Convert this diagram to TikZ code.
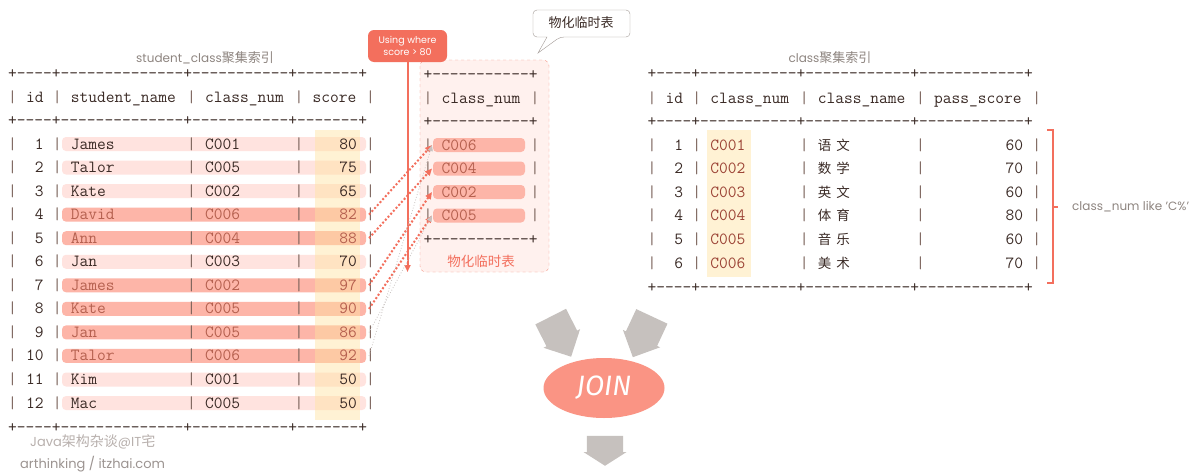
\documentclass[tikz,border=0pt]{standalone}
\usepackage{fontspec}
\setmainfont{Poppins}
\setmonofont{Latin Modern Mono}
\newfontfamily\cjk{Noto Sans CJK SC}
\newfontfamily\joinfont{Fira Sans}
\usetikzlibrary{arrows.meta,shapes.geometric,shapes.arrows}

\definecolor{ink}{HTML}{3A2A25}
\definecolor{pipe}{HTML}{7A625A}
\definecolor{hitink}{HTML}{B5604F}
\definecolor{codeink}{HTML}{9C4436}
\definecolor{barlo}{HTML}{FFE3DF}
\definecolor{barhi}{HTML}{FDB5A8}
\definecolor{colhl}{HTML}{FFE3A0}
\definecolor{redline}{HTML}{F36F5D}
\definecolor{joinfill}{HTML}{FA9484}
\definecolor{boxfill}{HTML}{FFF1EE}
\definecolor{boxline}{HTML}{F3907F}
\definecolor{label}{HTML}{8E8580}
\definecolor{wmlight}{HTML}{B8B0AD}
\definecolor{wmdark}{HTML}{9C9491}
\definecolor{arrowgray}{HTML}{C6C1BE}
\definecolor{linkgray}{HTML}{C8C2C0}
\definecolor{calloutline}{HTML}{A39B97}

\tikzset{
  tt/.style={font=\ttfamily\fontsize{17}{17}\selectfont, inner sep=0pt, text height=10pt, text depth=0pt},
  cjkcell/.style={font=\cjk\fontsize{13.5}{13.5}\selectfont, inner sep=0pt, text height=10pt, text depth=0pt},
  bar/.style={rounded corners=4pt},
  hl/.style={fill=colhl, fill opacity=0.45},
  caption/.style={font=\fontsize{12}{12}\selectfont, text=label, inner sep=0pt},
  hitlink/.style={redline, line width=2pt, dash pattern=on 2pt off 2pt, -{Triangle[length=7pt,width=6pt]}},
  duplink/.style={linkgray, line width=0.8pt, dotted, -{Triangle[length=6pt,width=5pt]}},
  blockarrow/.style={single arrow, fill=arrowgray, minimum height=45pt, minimum width=41pt,
    inner xsep=0pt, inner ysep=10.3pt, single arrow head extend=2pt},
  wherebox/.style={fill=redline, rounded corners=6pt, minimum width=79pt, minimum height=32pt,
    inner sep=0pt, text=white, align=center, font=\fontsize{9.5}{12.5}\selectfont},
}

\def\lrows{1/James/C001/80/barlo/ink, 2/Talor/C005/75/barlo/ink, 3/Kate/C002/65/barlo/ink,
  4/David/C006/82/barhi/hitink, 5/Ann/C004/88/barhi/hitink, 6/Jan/C003/70/barlo/ink,
  7/James/C002/97/barhi/hitink, 8/Kate/C005/90/barhi/hitink, 9/Jan/C005/86/barhi/hitink,
  10/Talor/C006/92/barhi/hitink, 11/Kim/C001/50/barlo/ink, 12/Mac/C005/50/barlo/ink}
\def\rrows{1/C001/语/文/60, 2/C002/数/学/70, 3/C003/英/文/60,
  4/C004/体/育/80, 5/C005/音/乐/60, 6/C006/美/术/70}

\begin{document}
\begin{tikzpicture}[x=1pt, y=-1pt]
\fill[white] (0,0) rectangle (1200,474);

% titles
\node[caption] (ltitle) at (205,58) {student\_class{\cjk\fontsize{13}{13}\selectfont 聚集索引}};
\node[caption] (rtitle) at (830,58) {class{\cjk\fontsize{13}{13}\selectfont 聚集索引}};

% materialized temp table box
\draw[boxline, dashed, fill=boxfill, rounded corners=6pt] (420,60) rectangle (549,272);

% student_class table
\foreach \id/\name/\cls/\sc/\bc/\tc in \lrows {
  \pgfmathsetmacro\y{144+(\id-1)*23.55}
  \fill[fill=\bc, bar] (62,\y-7) rectangle (366,\y+7);
}
\fill[hl] (315,130) rectangle (360,420);
\node[tt, text=ink, anchor=west] (ltop) at (8,73) {+----+--------------+-----------+-------+};
\node[tt, text=pipe] at (12.5,97) {|};
\node[tt, text=pipe] at (57.25,97) {|};
\node[tt, text=pipe] at (191.5,97) {|};
\node[tt, text=pipe] at (298.9,97) {|};
\node[tt, text=pipe] at (370.5,97) {|};
\node[tt, text=ink, anchor=west] (lh1) at (25.9,97) {id};
\node[tt, text=ink, anchor=west] (lh2) at (70.7,97) {student\_name};
\node[tt, text=ink, anchor=west] (lh3) at (204.9,97) {class\_num};
\node[tt, text=ink, anchor=west] (lh4) at (312.3,97) {score};
\node[tt, text=ink, anchor=west] (lmid) at (8,120) {+----+--------------+-----------+-------+};
\foreach \id/\name/\cls/\sc/\bc/\tc in \lrows {
  \pgfmathsetmacro\y{144+(\id-1)*23.55}
  \foreach \c in {0,5,20,32,40}
    \node[tt, text=pipe] at ({12.5+8.95*\c},\y) {|};
  \node[tt, text=ink, anchor=east] (id\id) at (43.8,\y) {\id};
  \node[tt, text=\tc, anchor=west] (name\id) at (70.7,\y) {\name};
  \node[tt, text=\tc, anchor=west] (cls\id) at (204.9,\y) {\cls};
  \node[tt, text=\tc, anchor=east] (sc\id) at (357.1,\y) {\sc};
  \coordinate (from\id) at (369,\y);
}
\node[tt, text=ink, anchor=west] (lbot) at (8,427) {+----+--------------+-----------+-------+};

% temp table
\node[tt, text=ink, anchor=west] (ttop) at (423.5,74) {+-----------+};
\node[tt, text=pipe] at (428,98) {|};
\node[tt, text=pipe] at (535,98) {|};
\node[tt, text=ink, anchor=west] (th) at (441.4,98) {class\_num};
\node[tt, text=ink, anchor=west] (tmid) at (423.5,121) {+-----------+};
\foreach \cls [count=\k] in {C006,C004,C002,C005} {
  \pgfmathsetmacro\y{145+(\k-1)*23.5}
  \fill[fill=barhi, bar] (433,\y-7) rectangle (525,\y+7);
  \node[tt, text=pipe] at (428,\y) {|};
  \node[tt, text=pipe] at (535,\y) {|};
  \node[tt, text=hitink, anchor=west] (tmp\k) at (441.4,\y) {\cls};
  \coordinate (to\k) at (432,\y);
}
\node[tt, text=ink, anchor=west] (tbot) at (423.5,239) {+-----------+};
\node[font=\cjk\fontsize{13.5}{13.5}\selectfont, text=redline, inner sep=0pt] (tlabel) at (481,261) {物化临时表};

% callout
\draw[calloutline, fill=white, rounded corners=4pt] (533,10) -- (630,10) -- (630,37) -- (560,37)
  [sharp corners] -- (538,53) -- (547,37) [rounded corners=4pt] -- (533,37) -- cycle;
\node[font=\cjk\fontsize{13}{13}\selectfont, text=ink, inner sep=0pt] (memo) at (581,23) {物化临时表};

% class table
\fill[hl] (707,130) rectangle (751,277);
\node[tt, text=ink, anchor=west] (rtop) at (647.5,73) {+----+-----------+------------+------------+};
\foreach \c in {0,5,17,30,43}
  \node[tt, text=pipe] at ({652+8.95*\c},98) {|};
\node[tt, text=ink, anchor=west] (rh1) at (665.4,98) {id};
\node[tt, text=ink, anchor=west] (rh2) at (710.2,98) {class\_num};
\node[tt, text=ink, anchor=west] (rh3) at (817.6,98) {class\_name};
\node[tt, text=ink, anchor=west] (rh4) at (933.9,98) {pass\_score};
\node[tt, text=ink, anchor=west] (rmid) at (647.5,121) {+----+-----------+------------+------------+};
\foreach \id/\cls/\ca/\cb/\ps in \rrows {
  \pgfmathsetmacro\y{145+(\id-1)*23.6}
  \foreach \c in {0,5,17,30,43}
    \node[tt, text=pipe] at ({652+8.95*\c},\y) {|};
  \node[tt, text=ink, anchor=east] (rid\id) at (683.3,\y) {\id};
  \node[tt, text=codeink, anchor=west] (rcls\id) at (710.2,\y) {\cls};
  \node[cjkcell, text=ink, anchor=west] (rname\id) at (817.6,\y) {\ca\hspace{5pt}\cb};
  \node[tt, text=ink, anchor=east] (rps\id) at (1023.4,\y) {\ps};
}
\node[tt, text=ink, anchor=west] (rbot) at (647.5,287) {+----+-----------+------------+------------+};

% like condition
\draw[redline, line width=1.5pt] (1047,130) -- (1053,130) -- (1053,283) -- (1047,283);
\draw[redline, line width=1.5pt] (1053,207) -- (1058,207);
\node[caption, anchor=west] (likecond) at (1072,207) {class\_num like 'C\%'};

% where filter
\node[wherebox] (where) at (407.5,46) {Using where\\score > 80};
\coordinate (wend) at (407.5,272);
\draw[redline, line width=2pt, -{Triangle[length=7pt,width=6pt]}] (where) -- (wend);

% rows to temp table
\draw[hitlink] (from4) -- (to1);
\draw[hitlink] (from5) -- (to2);
\draw[hitlink] (from7) -- (to3);
\draw[hitlink] (from8) -- (to4);
\draw[duplink] (from9) -- (to4);
\draw[duplink] (from10) -- (to1);

% join
\node[blockarrow, rotate=-63] (inl) at (557,329) {};
\node[blockarrow, rotate=-115] (inr) at (646,329) {};
\node[ellipse, fill=joinfill, minimum width=121pt, minimum height=60pt, inner sep=0pt, text=white,
  font=\joinfont\itshape\fontsize{28}{28}\selectfont] (join) at (604,388) {JOIN};
\node[blockarrow, rotate=-90, minimum height=30pt, minimum width=43pt, single arrow tip angle=115] (result) at (605,445) {};

% watermark
\node[caption, text=wmlight, anchor=west, font=\fontsize{13}{13}\selectfont] (wm1) at (30,442) {Java{\cjk\fontsize{14}{14}\selectfont 架构杂谈}@IT{\cjk\fontsize{14}{14}\selectfont 宅}};
\node[caption, text=wmdark, anchor=west, font=\fontsize{13}{13}\selectfont] (wm2) at (20,464) {arthinking / itzhai.com};
\end{tikzpicture}
\end{document}
